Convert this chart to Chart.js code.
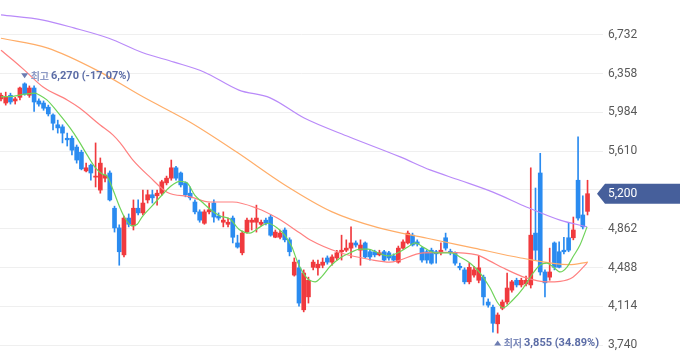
<!DOCTYPE html>
<html>
<head>
<meta charset="utf-8">
<script src="https://cdn.jsdelivr.net/npm/chart.js@4"></script>
<style>
  html, body { margin: 0; padding: 0; background: #fff; }
  #wrap { width: 680px; height: 358px; position: relative; }
</style>
</head>
<body>
<div id="wrap"><canvas id="priceChart"></canvas></div>
<script>
// daily candles, oldest first
const opens = [6115,6075,6150,6095,6130,6260,6150,6220,6095,6075,6035,5960,5865,5845,5735,5735,5650,5600,5420,5475,
  5360,5235,5350,5400,5060,4870,4610,4965,4890,5060,5015,5140,5190,5180,5205,5305,5350,5450,5400,5305,
  5205,5120,5025,4915,5025,5110,4985,4925,4905,4965,4725,4630,4830,4925,4925,4905,4945,4975,4780,4780,
  4850,4755,4415,4485,4080,4205,4490,4485,4510,4580,4540,4580,4640,4655,4675,4725,4655,4725,4640,4640,
  4610,4640,4630,4600,4540,4675,4725,4800,4735,4675,4640,4655,4640,4630,4775,4645,4630,4500,4465,4350,
  4415,4365,4395,4155,4105,3945,4095,4155,4270,4365,4320,4330,4320,4820,5400,4445,4395,4725,4640,4655,
  4775,4775,5330,4995,5030];
const highs = [6170,6180,6170,6130,6230,6270,6240,6240,6115,6095,6055,5970,5910,5865,5785,5755,5670,5620,5495,5485,
  5690,5545,5450,5420,5080,4900,4985,5005,5140,5140,5235,5235,5235,5235,5330,5370,5525,5465,5410,5315,
  5265,5140,5045,5045,5110,5140,5015,5025,4965,4985,4800,4840,4965,4965,5090,4945,4965,4995,4850,4850,
  4870,4775,4580,4560,4465,4395,4560,4560,4580,4600,4610,4655,4800,4755,4880,4745,4755,4735,4655,4655,
  4655,4655,4645,4620,4695,4755,4840,4820,4755,4685,4655,4675,4655,4725,4820,4665,4640,4530,4485,4530,
  4500,4600,4415,4185,4125,4050,4175,4435,4365,4385,4385,4405,5450,5255,5590,4465,4675,4735,4735,4780,
  4915,4975,5750,5180,5330];
const lows = [6095,6055,6065,6065,6105,6150,6130,5995,6045,6005,5950,5815,5785,5690,5660,5575,5495,5430,5410,5330,
  5265,5205,5315,5130,4830,4510,4590,4880,4850,4995,4995,5110,5110,5090,5185,5285,5330,5330,5265,5170,
  5140,5005,4925,4905,5005,4925,4945,4880,4880,4725,4675,4610,4820,4850,4830,4890,4900,4790,4775,4765,
  4735,4600,4405,4115,4060,4145,4465,4415,4485,4520,4510,4560,4560,4640,4580,4685,4510,4580,4560,4590,
  4600,4550,4560,4550,4530,4665,4715,4695,4695,4540,4530,4520,4530,4610,4655,4610,4510,4465,4330,4330,
  4395,4340,4125,4105,3865,3855,4080,4135,4250,4300,4300,4310,4290,4560,4415,4205,4365,4465,4485,4620,
  4640,4755,4945,4860,4995];
const closes = [6150,6130,6085,6115,6220,6160,6220,6085,6065,6025,5970,5880,5835,5785,5720,5620,5525,5440,5450,5400,
  5370,5495,5380,5140,4870,4640,4965,4905,5060,5015,5110,5190,5160,5205,5315,5350,5450,5350,5285,5190,
  5160,5025,4945,5025,5045,4975,4965,4945,4925,4780,4685,4820,4945,4945,4965,4925,4915,4800,4830,4820,
  4755,4640,4540,4145,4435,4365,4540,4520,4540,4540,4590,4630,4655,4675,4725,4705,4705,4590,4590,4610,
  4630,4560,4580,4560,4675,4735,4820,4705,4715,4560,4560,4530,4620,4655,4675,4630,4530,4485,4350,4490,
  4465,4485,4205,4125,3950,4030,4155,4290,4350,4320,4365,4365,4800,4655,4445,4340,4445,4490,4490,4640,
  4655,4850,4965,4880,5200];

// moving averages (x = candle index)
const ma5Idx = [0,2.5,5.1,7.2,8.2,9.7,12.1,14.6,16.3,18.2,19.9,21.4,22.4,23.7,25.2,26.2,27.7,28.8,29.8,31.9,
  34,35.7,37.8,39.3,41,42.5,44.6,46.3,48.4,50.5,52.6,54.8,56.4,58.4,60,61.5,62.8,64.7,66.4,67.9,
  69.6,71.7,73.8,75.9,77.6,79.7,81.8,83.9,86,87.5,89.6,91.8,93.9,95.3,97,99.2,101.3,103.4,104.9,106.1,
  108.2,110.4,112.5,113.9,115.4,116.7,118.2,119.7,120.9,122.4,123.9];
const ma5 = [6135,6140,6160,6170,6150,6105,5980,5835,5720,5575,5455,5390,5370,5235,5060,4965,4890,4905,4975,5080,
  5185,5265,5320,5305,5185,5120,5035,4985,4955,4850,4820,4880,4915,4870,4800,4685,4530,4385,4350,4405,
  4500,4580,4630,4665,4665,4630,4600,4630,4685,4725,4675,4630,4630,4630,4590,4530,4435,4290,4155,4100,
  4175,4290,4435,4510,4530,4495,4445,4495,4590,4705,4880];
const ma20Idx = [0,2.5,4.9,8.9,14,16.7,20.9,23.7,25.2,27.9,31.5,35.1,40,44.2,49,54.1,58.4,63.2,65.3,71.7,
  78.6,82.2,89.2,94.3,100.6,103.4,106.1,111.2,115.4,118.2,120.9,123.9];
const ma20 = [6585,6490,6395,6230,6105,6025,5865,5765,5690,5525,5360,5215,5170,5120,5120,5060,4965,4820,4755,4630,
  4560,4540,4630,4635,4610,4550,4485,4385,4350,4355,4395,4530];
const ma60Idx = [0,9.9,20.1,30,40,49.9,60,70,79.9,90.1,100,109.9,120.1,124.1];
const ma60 = [6700,6605,6395,6135,5890,5600,5285,5025,4870,4770,4675,4580,4515,4540];
const ma120Idx = [0,8.9,15.4,22.8,30,36.6,42.9,50.3,56.9,64.1,73.8,84.4,90.7,97,104,111.2,118.2,123.9];
const ma120 = [6925,6875,6800,6700,6560,6470,6375,6200,6125,5930,5745,5555,5430,5330,5215,5070,4945,4880];

const yTicks = [3740,4114,4488,4862,5236,5610,5984,6358,6732];

const UP = '#f03a3e', DOWN = '#2a8bf0';
const candleColor = closes.map((c, i) => c >= opens[i] ? UP : DOWN);
const wicks = lows.map((l, i) => ({x: i, y: [l, highs[i]]}));
const bodies = opens.map((o, i) => ({x: i, y: [o, closes[i]]}));
const toPoints = (xs, ys) => xs.map((x, i) => ({x: x, y: ys[i]}));
const fmt = v => v.toLocaleString('en-US');
const lastClose = closes[closes.length - 1];

function maLine(label, xs, ys, color) {
  return {
    type: 'line', label: label, data: toPoints(xs, ys),
    borderColor: color, borderWidth: 1.2, pointRadius: 0,
    cubicInterpolationMode: 'monotone', order: 0
  };
}

// high / low markers and the current price tag
const markers = {
  id: 'markers',
  afterDatasetsDraw(chart) {
    const {ctx, chartArea, scales: {x, y}} = chart;
    const hi = Math.max(...highs), lo = Math.min(...lows);
    const hiX = x.getPixelForValue(highs.indexOf(hi)), hiY = y.getPixelForValue(hi) - 7;
    const loX = x.getPixelForValue(lows.indexOf(lo)), loY = y.getPixelForValue(lo) + 10;
    const hiPct = ((lastClose - hi) / hi * 100).toFixed(2);
    const loPct = ((lastClose - lo) / lo * 100).toFixed(2);

    ctx.save();
    ctx.textBaseline = 'middle';
    ctx.textAlign = 'left';
    // ▼ high
    ctx.fillStyle = '#6d7db2';
    ctx.beginPath();
    ctx.moveTo(hiX - 3.5, hiY - 2.5); ctx.lineTo(hiX + 3.5, hiY - 2.5); ctx.lineTo(hiX, hiY + 2.5);
    ctx.closePath(); ctx.fill();
    ctx.font = 'bold 10px "Noto Sans CJK KR"';
    ctx.fillStyle = '#8e9bc6';
    ctx.fillText('최고', hiX + 6, hiY);
    let w = ctx.measureText('최고').width;
    ctx.font = 'bold 11px Roboto';
    ctx.fillStyle = '#5b6ca6';
    ctx.fillText(fmt(hi) + ' (' + hiPct + '%)', hiX + 8 + w, hiY);
    // ▲ low
    ctx.fillStyle = '#6d7db2';
    ctx.beginPath();
    ctx.moveTo(loX - 3.5, loY + 2.5); ctx.lineTo(loX + 3.5, loY + 2.5); ctx.lineTo(loX, loY - 2.5);
    ctx.closePath(); ctx.fill();
    ctx.font = 'bold 10px "Noto Sans CJK KR"';
    ctx.fillStyle = '#7d8bbb';
    ctx.fillText('최저', loX + 6, loY);
    w = ctx.measureText('최저').width;
    ctx.font = 'bold 11px Roboto';
    ctx.fillStyle = '#5b6ca6';
    ctx.fillText(fmt(lo) + ' (' + loPct + '%)', loX + 8 + w, loY);

    // current price tag
    const py = y.getPixelForValue(lastClose);
    const tip = chartArea.right - 6;
    ctx.fillStyle = '#465f9b';
    ctx.beginPath();
    ctx.moveTo(tip, py); ctx.lineTo(tip + 8, py - 10); ctx.lineTo(chart.width, py - 10);
    ctx.lineTo(chart.width, py + 10); ctx.lineTo(tip + 8, py + 10);
    ctx.closePath(); ctx.fill();
    ctx.fillStyle = '#ffffff';
    ctx.font = '12px Roboto';
    ctx.fillText(fmt(lastClose), chartArea.right + 5, py + 0.5);
    ctx.restore();
  }
};

new Chart(document.getElementById('priceChart'), {
  type: 'bar',
  data: {
    datasets: [
      maLine('5', ma5Idx, ma5, '#6fd35a'),
      maLine('20', ma20Idx, ma20, '#ff8080'),
      maLine('60', ma60Idx, ma60, '#ffad68'),
      maLine('120', ma120Idx, ma120, '#b98af9'),
      { label: 'wick', data: wicks, backgroundColor: candleColor, barThickness: 1,
        grouped: false, order: 2 },
      { label: 'body', data: bodies, backgroundColor: candleColor, barThickness: 4,
        minBarLength: 1, grouped: false, order: 1 }
    ]
  },
  options: {
    responsive: true,
    maintainAspectRatio: false,
    animation: false,
    layout: { padding: 0 },
    plugins: { legend: { display: false }, tooltip: { enabled: false } },
    scales: {
      x: { type: 'linear', display: false, offset: false, min: -0.21, max: 127.27 },
      y: {
        position: 'right', min: 3615, max: 7069, bounds: 'data',
        border: { display: false },
        grid: { color: '#efefef', drawTicks: false },
        ticks: {
          padding: 5, color: '#595959', font: { family: 'Roboto', size: 12 },
          callback: v => Math.abs(v - lastClose) < 100 ? '' : fmt(v)
        },
        afterBuildTicks: scale => { scale.ticks = yTicks.map(v => ({ value: v })); },
        afterFit: scale => { scale.width = 77; scale.paddingTop = 0; scale.paddingBottom = 0; }
      }
    }
  },
  plugins: [markers]
});
</script>
</body>
</html>
